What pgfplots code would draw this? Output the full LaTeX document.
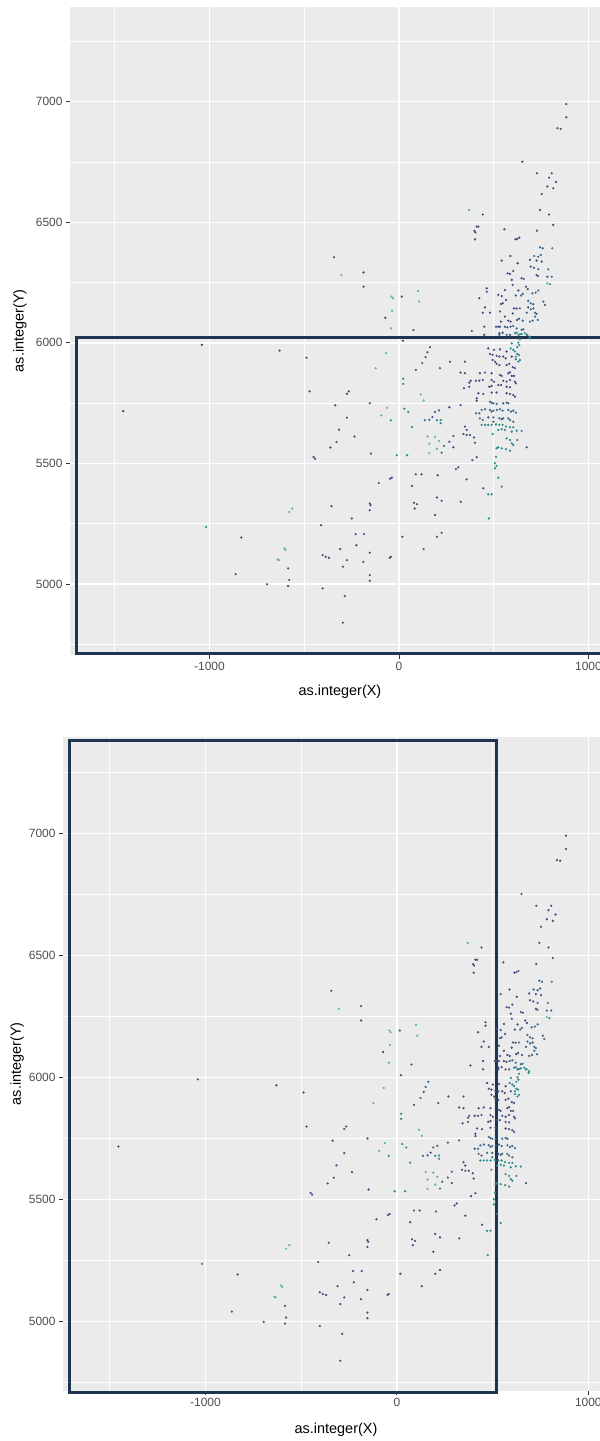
\documentclass[border=0pt]{standalone}
\usepackage{pgfplots}
\pgfplotsset{compat=1.18}
\usepackage{pgfplotstable}
\usepackage{fontspec}
\setmainfont{Liberation Sans}
\definecolor{panelbg}{HTML}{EBEBEB}
\definecolor{tickgray}{HTML}{333333}
\definecolor{labgray}{HTML}{4D4D4D}
\definecolor{rectcol}{HTML}{1F3552}
\definecolor{cdark}{HTML}{434C7E}
\definecolor{cblue}{HTML}{38668B}
\definecolor{cteal}{HTML}{2C8A8C}
\definecolor{cgreen}{HTML}{58BC85}

\pgfplotstableread{
x y
883 6990
883 6935
836 6890
853 6887
651 6751
728 6703
806 6703
792 6685
829 6667
783 6648
814 6641
753 6617
442 6532
744 6551
792 6532
814 6489
410 6482
419 6482
398 6464
403 6458
401 6429
556 6471
728 6465
614 6429
624 6431
635 6436
588 6360
542 6341
691 6344
626 6330
726 6341
753 6337
695 6316
712 6311
603 6298
586 6286
726 6281
573 6288
647 6268
595 6261
463 6226
463 6212
424 6185
670 6233
679 6223
630 6217
559 6219
524 6199
542 6194
616 6196
565 6178
538 6161
547 6164
454 6147
607 6143
621 6142
442 6125
480 6125
533 6130
600 6122
559 6109
633 6100
623 6095
577 6092
589 6088
538 6088
450 6067
512 6067
524 6067
533 6067
559 6067
572 6064
530 6040
547 6042
450 6033
530 6033
586 6033
471 5977
501 5971
533 5973
568 5964
480 5954
494 5950
515 5946
530 5943
550 5943
563 5936
595 5943
494 5929
507 5922
515 5913
530 5908
568 5908
582 5913
600 5899
612 5895
427 5874
454 5877
489 5874
533 5867
542 5863
577 5874
586 5878
595 5863
607 5863
378 5843
371 5835
406 5843
424 5843
442 5846
489 5846
501 5839
550 5843
568 5839
586 5846
612 5839
617 5832
524 5825
538 5825
477 5818
489 5821
568 5818
586 5816
419 5791
445 5788
489 5794
515 5794
568 5791
586 5788
603 5784
612 5777
410 5770
410 5760
269 5922
348 5922
216 5895
325 5877
348 5874
343 5812
371 5818
266 5733
325 5742
348 5653
357 5639
340 5622
375 5618
396 5608
401 5586
287 5567
674 5567
410 5526
387 5514
313 5484
301 5476
357 5434
445 5397
384 6049
-1040 5992
-630 5968
-488 5938
-1455 5717
-472 5799
-275 5789
-265 5799
-154 5750
-336 5741
-275 5690
-316 5640
-330 5589
-362 5566
-235 5612
-148 5541
-451 5527
-443 5520
89 5888
200 5359
225 5345
190 5286
200 5196
225 5212
204 5451
89 5455
119 5455
69 5407
79 5337
95 5331
83 5313
-47 5437
-38 5441
-107 5419
-154 5334
-150 5327
-154 5306
18 5196
130 5145
-43 5113
-49 5109
-154 5130
-154 5037
-154 5014
-188 5092
-225 5161
-229 5207
-184 5207
-249 5272
-310 5145
-275 5099
-296 5072
-411 5244
-356 5323
-403 5120
-387 5113
-370 5109
-403 4982
-286 4950
-296 4840
-585 5065
-579 5017
-585 4992
-696 4999
-862 5041
-832 5193
326 5341
-187 6233
15 6192
76 6053
21 6009
-343 6355
-187 6292
-72 6104
140 5941
176 5692
}\darktab

\pgfplotstableread{
x y
744 6396
758 6392
714 6360
735 6357
748 6364
735 6305
734 6277
783 6274
658 6265
806 6274
735 6217
704 6205
721 6208
600 6240
653 6203
644 6196
682 6174
695 6164
709 6160
762 6171
770 6157
638 6143
682 6147
696 6139
709 6143
674 6125
718 6125
726 6120
718 6109
732 6095
653 6092
691 6088
705 6092
589 6067
603 6070
621 6060
647 6054
656 6056
568 6033
480 5756
489 5752
498 5749
515 5747
550 5749
568 5752
577 5749
436 5722
454 5725
480 5722
489 5715
498 5719
517 5722
533 5725
547 5719
577 5722
591 5715
603 5719
617 5711
406 5708
424 5708
471 5691
498 5691
530 5687
542 5683
550 5687
577 5687
586 5680
603 5673
427 5687
442 5680
498 5673
357 5618
287 5614
266 5590
237 5573
225 5545
164 5982
150 5961
123 5916
136 5679
160 5681
190 5713
211 5720
}\bluetab

\pgfplotstableread{
x y
809 6392
788 6305
797 6243
612 6040
630 6033
638 6035
665 6040
677 6033
691 6026
621 6042
647 6037
674 6033
688 6019
638 6015
630 6001
635 5991
624 5982
595 5998
589 5977
603 5971
612 5964
624 5954
633 5950
617 5943
617 5932
638 5929
630 5922
436 5660
454 5660
471 5660
489 5660
512 5662
530 5660
547 5660
565 5653
586 5650
603 5650
524 5639
542 5642
559 5639
595 5632
621 5636
647 5635
494 5622
568 5604
586 5597
624 5597
595 5584
603 5577
515 5563
524 5567
542 5563
565 5559
586 5553
512 5528
506 5501
515 5490
506 5480
524 5441
542 5404
471 5372
489 5372
474 5272
220 5680
220 5667
22 5851
22 5830
28 5727
49 5713
-43 5679
43 5534
-12 5534
69 5651
-1018 5237
200 5679
}\tealtab

\pgfplotstableread{
x y
783 6247
370 6551
-563 5313
-579 5299
-605 5148
-599 5141
-640 5102
-634 5099
115 5786
130 5761
150 5612
160 5582
190 5610
211 5593
200 5561
160 5543
-123 5895
-69 5957
-63 5731
-93 5699
-304 6281
-40 6192
-32 6185
100 6215
106 6171
-36 6133
-42 6060
}\greentab

\pgfplotsset{
  ggstyle/.style={
    scale only axis,
    axis background/.style={fill=panelbg},
    axis line style={draw=none},
    grid=both,
    major grid style={white, line width=1.4bp},
    minor grid style={white, line width=0.7bp},
    xtick={-1000,0,1000},
    xticklabels={-1000,0,1000},
    ytick={5000,5500,6000,6500,7000},
    yticklabels={5000,5500,6000,6500,7000},
    minor xtick={-1500,-500,500},
    minor ytick={4750,5250,5750,6250,6750,7250},
    tick pos=left,
    tick align=outside,
    major tick length=4bp,
    minor tick length=0pt,
    tick style={color=tickgray, line width=0.9bp},
    ticklabel style={font=\fontsize{12}{14}\selectfont, text=labgray},
    label style={font=\fontsize{14.5}{16}\selectfont, text=black},
    xlabel={as.integer(X)},
    ylabel={as.integer(Y)},
    clip=false,
    every axis plot/.append style={only marks, mark=*, mark size=0.9bp, mark options={draw=none}},
  }
}

\begin{document}
\begin{tikzpicture}
\path[use as bounding box] (0,0) rectangle (600bp,1441bp);
% top panel
\begin{axis}[ggstyle,
  at={(70bp,786bp)}, anchor=south west,
  width=539.9bp, height=648.4bp,
  xmin=-1736, xmax=1113, ymin=4706, ymax=7394,
  xlabel style={at={(axis description cs:0.5,-0.0571)}, anchor=center},
  ylabel style={at={(axis description cs:-0.0926,0.5)}, anchor=center},
]
\addplot[color=cdark] table {\darktab};
\addplot[color=cblue] table {\bluetab};
\addplot[color=cteal] table {\tealtab};
\addplot[color=cgreen] table {\greentab};
\draw[rectcol, line width=3bp] (axis cs:-1702,4713) rectangle (axis cs:1400,6023);
\end{axis}
% bottom panel
\begin{axis}[ggstyle,
  at={(63bp,50bp)}, anchor=south west,
  width=546bp, height=654.4bp,
  xmin=-1744.5, xmax=1108, ymin=4716, ymax=7395.6,
  xlabel style={at={(axis description cs:0.5,-0.0596)}, anchor=center},
  ylabel style={at={(axis description cs:-0.0842,0.5)}, anchor=center},
]
\addplot[color=cdark] table {\darktab};
\addplot[color=cblue] table {\bluetab};
\addplot[color=cteal] table {\tealtab};
\addplot[color=cgreen] table {\greentab};
\draw[rectcol, line width=3bp] (axis cs:-1708,4709) rectangle (axis cs:520,7379);
\end{axis}
\end{tikzpicture}
\end{document}
